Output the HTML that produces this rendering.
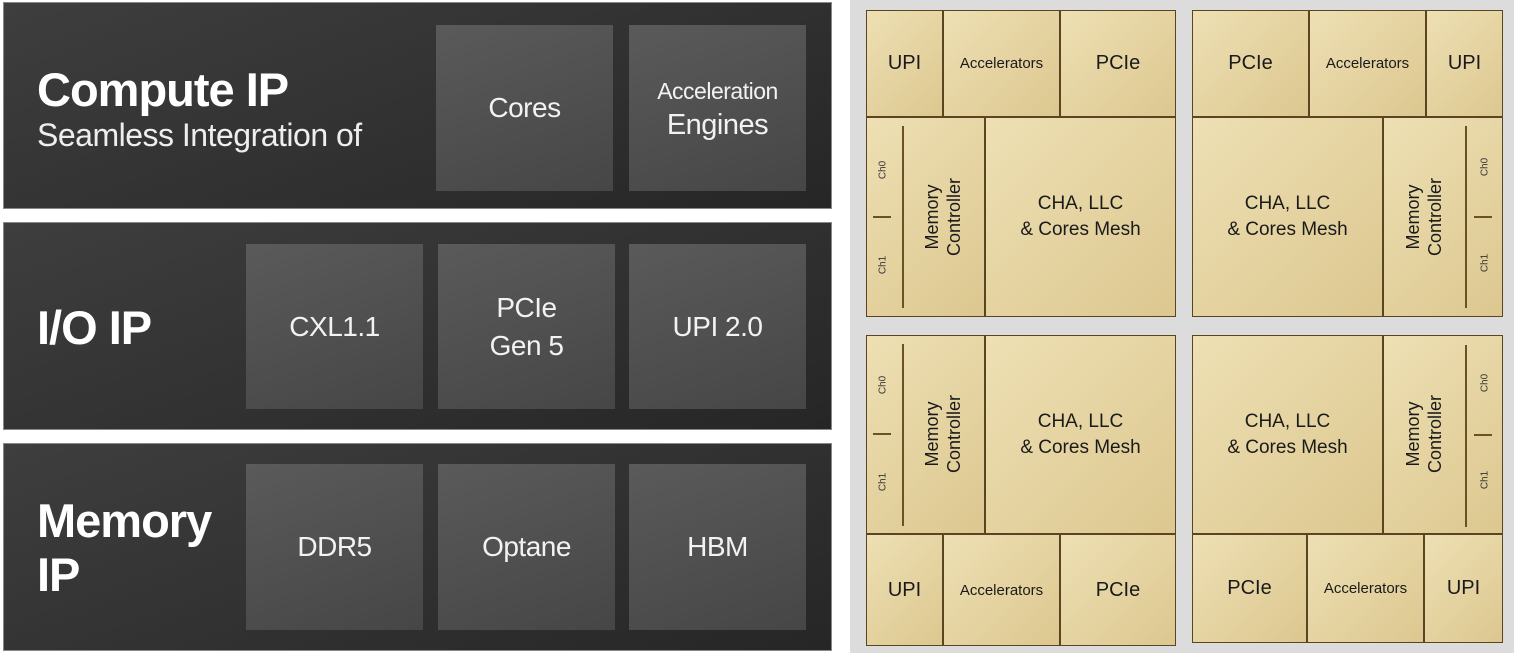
<!DOCTYPE html>
<html><head><meta charset="utf-8"><style>
*{margin:0;padding:0;box-sizing:border-box}
body{width:1514px;height:653px;background:#fff;position:relative;overflow:hidden;font-family:"Liberation Sans",sans-serif}
.a{position:absolute}
.p{background:linear-gradient(160deg,#3e3e3e,#262626);border:1px solid #888}
.b{background:linear-gradient(160deg,#5a5a5a,#464646);color:#f2f2f2;display:flex;align-items:center;justify-content:center;text-align:center;font-size:28px;line-height:38px;letter-spacing:-0.5px}
.t{color:#fff;font-weight:bold;letter-spacing:-1px}
.chip{background:#5a4520}
.g{position:absolute;background:linear-gradient(135deg,#eee0b4,#dcc78f);color:#1a1a1a;display:flex;align-items:center;justify-content:center;text-align:center}
.s{font-size:20px}
.acc{font-size:15px}
.cha{font-size:19px;line-height:26px}
.mc{font-size:18px;line-height:22px;transform:translate(-50%,-50%) rotate(-90deg);white-space:nowrap;position:absolute;text-align:center;color:#1a1a1a}
.ch{font-size:10px;transform:translate(-50%,-50%) rotate(-90deg);position:absolute;color:#333}
.ln{position:absolute;background:#6a5225}
</style></head><body>
<div class="a" style="left:0;top:0;width:850px;height:653px;background:#fff"></div>
<div class="a" style="left:850px;top:0;width:664px;height:653px;background:#dcdcdc"></div>

<div class="a p" style="left:3px;top:2px;width:829px;height:207px"></div>
<div class="a t" style="left:37px;top:62px;font-size:47px">Compute IP</div>
<div class="a" style="left:37px;top:117px;font-size:32px;color:#eee;letter-spacing:-0.5px">Seamless Integration of</div>
<div class="a b" style="left:436px;top:25px;width:177px;height:166px">Cores</div>
<div class="a b" style="left:629px;top:25px;width:177px;height:166px"><div style="font-size:23px;line-height:34px">Acceleration<br><span style="font-size:29px">Engines</span></div></div>

<div class="a p" style="left:3px;top:222px;width:829px;height:208px"></div>
<div class="a t" style="left:37px;top:300px;font-size:47px">I/O IP</div>
<div class="a b" style="left:246px;top:244px;width:177px;height:165px">CXL1.1</div>
<div class="a b" style="left:438px;top:244px;width:177px;height:165px"><div>PCIe<br>Gen 5</div></div>
<div class="a b" style="left:629px;top:244px;width:177px;height:165px">UPI 2.0</div>

<div class="a p" style="left:3px;top:443px;width:829px;height:208px"></div>
<div class="a t" style="left:37px;top:494px;font-size:47px;line-height:54px">Memory<br>IP</div>
<div class="a b" style="left:246px;top:464px;width:177px;height:166px">DDR5</div>
<div class="a b" style="left:438px;top:464px;width:177px;height:166px">Optane</div>
<div class="a b" style="left:629px;top:464px;width:177px;height:166px">HBM</div>

<!-- TL -->
<div class="a chip" style="left:866px;top:10px;width:310px;height:307px"></div>
<div class="g s" style="left:867px;top:11px;width:75px;height:105px">UPI</div>
<div class="g acc" style="left:944px;top:11px;width:115px;height:105px">Accelerators</div>
<div class="g s" style="left:1061px;top:11px;width:114px;height:105px">PCIe</div>
<div class="g" style="left:867px;top:118px;width:117px;height:198px"></div>
<div class="mc" style="left:943px;top:217px">Memory<br>Controller</div>
<div class="ln" style="left:902px;top:126px;width:2px;height:182px"></div>
<div class="ln" style="left:873px;top:216px;width:18px;height:2px"></div>
<div class="ch" style="left:883px;top:170px">Ch0</div><div class="ch" style="left:883px;top:265px">Ch1</div>
<div class="g cha" style="left:986px;top:118px;width:189px;height:198px">CHA, LLC<br>&amp; Cores Mesh</div>

<!-- TR -->
<div class="a chip" style="left:1192px;top:10px;width:311px;height:307px"></div>
<div class="g s" style="left:1193px;top:11px;width:115px;height:105px">PCIe</div>
<div class="g acc" style="left:1310px;top:11px;width:115px;height:105px">Accelerators</div>
<div class="g s" style="left:1427px;top:11px;width:75px;height:105px">UPI</div>
<div class="g cha" style="left:1193px;top:118px;width:189px;height:198px">CHA, LLC<br>&amp; Cores Mesh</div>
<div class="g" style="left:1384px;top:118px;width:118px;height:198px"></div>
<div class="mc" style="left:1424px;top:217px">Memory<br>Controller</div>
<div class="ln" style="left:1465px;top:126px;width:2px;height:182px"></div>
<div class="ln" style="left:1474px;top:216px;width:18px;height:2px"></div>
<div class="ch" style="left:1485px;top:167px">Ch0</div><div class="ch" style="left:1485px;top:263px">Ch1</div>

<!-- BL -->
<div class="a chip" style="left:866px;top:335px;width:310px;height:311px"></div>
<div class="g" style="left:867px;top:336px;width:117px;height:197px"></div>
<div class="mc" style="left:943px;top:434px">Memory<br>Controller</div>
<div class="ln" style="left:902px;top:344px;width:2px;height:182px"></div>
<div class="ln" style="left:873px;top:433px;width:18px;height:2px"></div>
<div class="ch" style="left:883px;top:385px">Ch0</div><div class="ch" style="left:883px;top:482px">Ch1</div>
<div class="g cha" style="left:986px;top:336px;width:189px;height:197px">CHA, LLC<br>&amp; Cores Mesh</div>
<div class="g s" style="left:867px;top:535px;width:75px;height:110px">UPI</div>
<div class="g acc" style="left:944px;top:535px;width:115px;height:110px">Accelerators</div>
<div class="g s" style="left:1061px;top:535px;width:114px;height:110px">PCIe</div>

<!-- BR -->
<div class="a chip" style="left:1192px;top:335px;width:311px;height:308px"></div>
<div class="g cha" style="left:1193px;top:336px;width:189px;height:197px">CHA, LLC<br>&amp; Cores Mesh</div>
<div class="g" style="left:1384px;top:336px;width:118px;height:197px"></div>
<div class="mc" style="left:1424px;top:434px">Memory<br>Controller</div>
<div class="ln" style="left:1465px;top:345px;width:2px;height:182px"></div>
<div class="ln" style="left:1474px;top:434px;width:18px;height:2px"></div>
<div class="ch" style="left:1485px;top:383px">Ch0</div><div class="ch" style="left:1485px;top:480px">Ch1</div>
<div class="g s" style="left:1193px;top:535px;width:113px;height:107px">PCIe</div>
<div class="g acc" style="left:1308px;top:535px;width:115px;height:107px">Accelerators</div>
<div class="g s" style="left:1425px;top:535px;width:77px;height:107px">UPI</div>
</body></html>
